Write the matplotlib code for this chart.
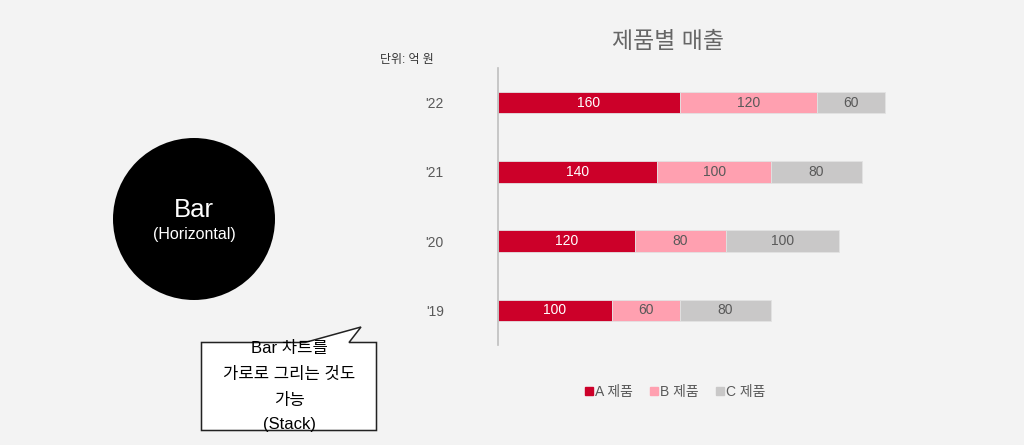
import matplotlib
matplotlib.use("Agg")
import matplotlib.pyplot as plt
from matplotlib.patches import Circle, Polygon
from matplotlib.lines import Line2D

plt.rcParams['font.family'] = ['Liberation Sans', 'Noto Sans CJK KR', 'DejaVu Sans']

# ---- data ----
years = ["'22", "'21", "'20", "'19"]
series_names = ["A 제품", "B 제품", "C 제품"]
a_vals = [160, 140, 120, 100]
b_vals = [120, 100, 80, 60]
c_vals = [60, 80, 100, 80]
colors = ["#CC0029", "#FFA0B0", "#C9C8C8"]
label_colors = ["white", "#595959", "#595959"]

title = "제품별 매출"
unit_text = "단위: 억 원"
circle_title = "Bar"
circle_sub = "(Horizontal)"
callout_lines = ["Bar 차트를", "가로로 그리는 것도", "가능", "(Stack)"]

BG = "#F3F3F3"
W, H = 1024, 445
fig = plt.figure(figsize=(W / 100, H / 100), dpi=100, facecolor=BG)

# ---- decoration overlay in pixel coordinates ----
deco = fig.add_axes([0, 0, 1, 1], facecolor="none")
deco.set_xlim(0, W)
deco.set_ylim(H, 0)
deco.axis("off")
deco.add_patch(Circle((194, 219), 81, facecolor="black", edgecolor="none"))
deco.text(194, 210, circle_title, color="white", fontsize=18.5, ha="center", va="center")
deco.text(194, 235, circle_sub, color="white", fontsize=11.5, ha="center", va="center")
deco.add_patch(Polygon([(201.5, 342.5), (305, 342.5), (361, 327), (349, 342.5),
                        (376.5, 342.5), (376.5, 430.5), (201.5, 430.5)],
                       closed=True, facecolor="white", edgecolor="#222222", linewidth=1.1))
for txt, yy in zip(callout_lines, [349, 374, 400, 424]):
    deco.text(289, yy, txt, color="black", fontsize=12, ha="center", va="center")

fig.text(668 / W, 1 - 42 / H, title, color="#666666", fontsize=16.5, ha="center", va="center")
fig.text(380 / W, 1 - 60 / H, unit_text, color="#333333", fontsize=8.6, ha="left", va="center")

# ---- main chart ----
left = 498 / W
bottom = (H - 345) / H
top = (H - 68) / H
xmax = 360
right_px = 498 + xmax * 1.1375
ax = fig.add_axes([left, bottom, (right_px - 498) / W, top - bottom], facecolor="none")

ypos = list(range(len(years)))[::-1]  # '22 at top
lefts = [0] * len(years)
handles = []
for vals, col, lc, name in zip([a_vals, b_vals, c_vals], colors, label_colors, series_names):
    bars = ax.barh(ypos, vals, left=lefts, height=0.313, color=col,
                   edgecolor="#E2E2E2", linewidth=0.6)
    ax.bar_label(bars, labels=[str(v) for v in vals], label_type="center",
                 color=lc, fontsize=10)
    lefts = [l + v for l, v in zip(lefts, vals)]
    handles.append(Line2D([], [], marker="s", linestyle="none", markersize=5.5,
                          markerfacecolor=col, markeredgecolor=col, label=name))

ax.set_xlim(0, xmax)
ax.set_ylim(-0.5, len(years) - 0.5)
ax.set_yticks(ypos)
ax.set_yticklabels(years, color="#595959", fontsize=10)
ax.tick_params(axis="y", length=0, pad=39)
ax.set_xticks([])
for s in ["top", "right", "bottom"]:
    ax.spines[s].set_visible(False)
ax.spines["left"].set_color("#BFBFBF")
ax.spines["left"].set_linewidth(1.2)

fig.legend(handles=handles, loc="center", bbox_to_anchor=(675 / W, 1 - 392 / H),
           ncol=3, frameon=False, fontsize=10, labelcolor="#595959",
           handlelength=0.6, handletextpad=0.15, columnspacing=1.2,
           borderaxespad=0, borderpad=0)

fig.savefig("out.png", dpi=100, facecolor=BG)
